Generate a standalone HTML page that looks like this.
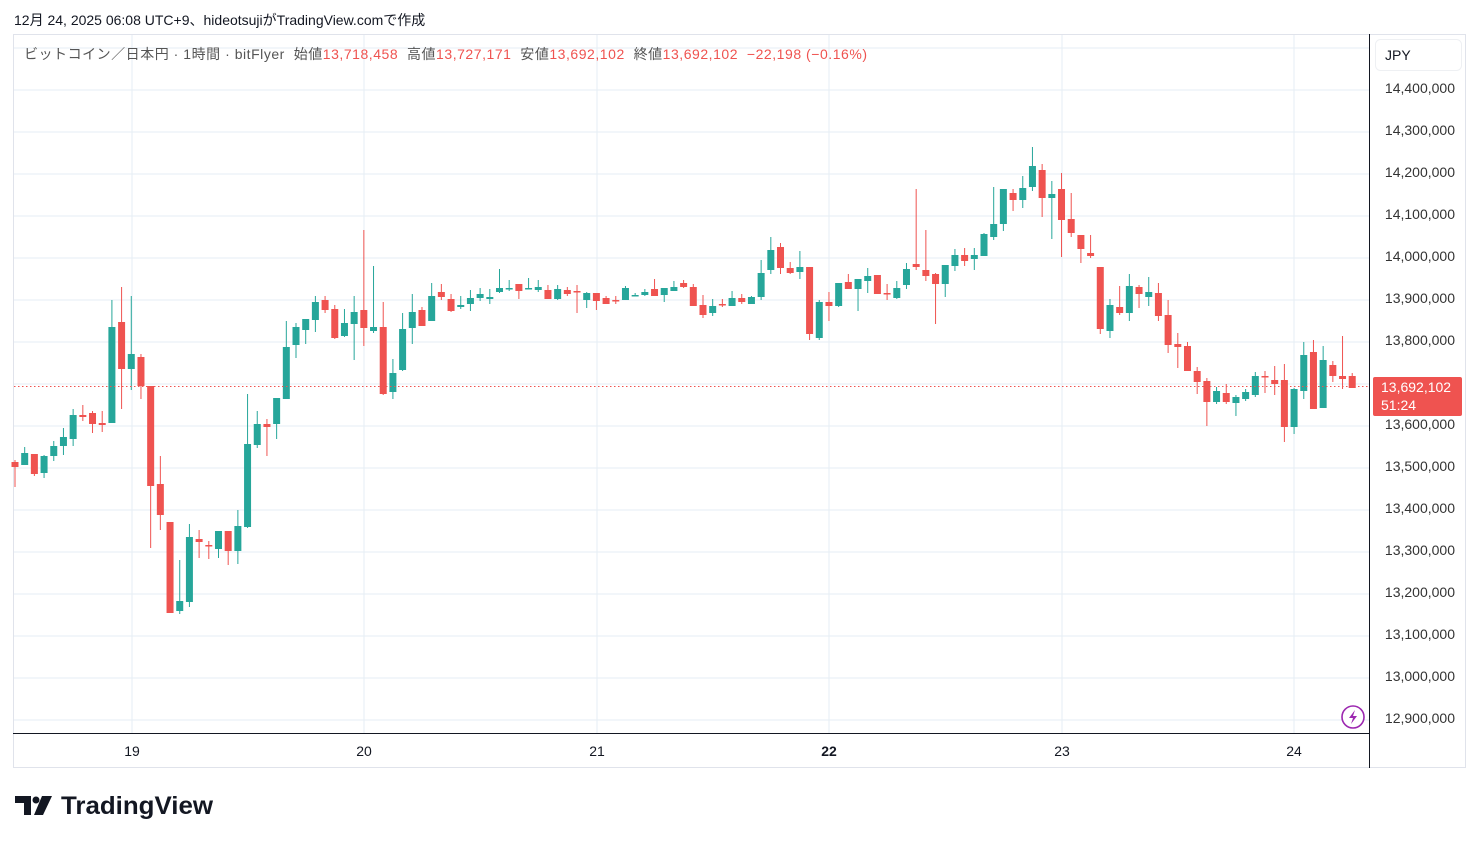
<!DOCTYPE html>
<html><head><meta charset="utf-8">
<style>
html,body{margin:0;padding:0;background:#fff;width:1479px;height:843px;overflow:hidden;font-family:"Liberation Sans","Noto Sans CJK JP",sans-serif;}
#hdr{position:absolute;left:14px;top:10px;font-size:14px;color:#131722;}
svg{position:absolute;left:0;top:0;}
</style></head><body>
<div id="hdr">12月 24, 2025 06:08 UTC+9、hideotsujiがTradingView.comで作成</div>
<svg id="s" width="1479" height="843" xmlns="http://www.w3.org/2000/svg" font-family="Liberation Sans, Noto Sans CJK JP, sans-serif"></svg>
<script>
var d=[
[462,460,487,467],[465,447,465,453],[454,454,476,474],[473,455,478,456],[456,441,461,446],[446,428,455,437],[439,409,446,415],[415,405,421,417],[413,411,433,424],[423,411,432,425],
[423,300,423,327],[322,287,409,369],[369,296,390,354],[357,354,399,386],[386,386,548,486],[484,456,530,515],[522,522,613,613],[611,560,614,601],[602,524,607,537],[539,530,558,542],
[545,541,559,546],[549,531,558,531],[531,531,565,551],[551,510,564,526],[527,394,528,444],[445,411,448,424],[424,419,456,427],[424,398,439,398],[399,321,399,347],[345,323,358,327],
[330,319,344,319],[320,296,332,302],[300,296,313,310],[309,305,339,338],[336,309,337,323],[324,296,360,312],[310,230,346,328],[331,266,333,327],[327,302,395,394],[392,359,399,373],
[370,313,371,329],[328,294,344,312],[310,307,326,326],[321,283,321,296],[292,284,300,297],[299,294,312,311],[307,296,309,305],[304,290,311,298],[298,288,301,294],[299,289,304,297],
[292,269,293,288],[289,280,291,288],[284,284,299,291],[289,278,289,288],[290,280,292,287],[290,285,299,299],[299,285,300,289],[290,287,296,294],[291,285,313,292],[300,292,308,293],
[293,293,310,301],[298,296,304,304],[300,296,304,301],[300,286,300,288],[296,293,296,295],[295,289,296,292],[289,279,296,296],[295,288,302,288],[291,281,291,287],[283,280,288,287],
[287,284,306,306],[305,295,318,315],[313,299,316,306],[304,299,307,305],[306,291,306,298],[298,294,304,302],[304,296,304,297],[297,260,300,273],[270,237,274,250],[247,243,274,268],
[268,262,274,273],[272,251,279,267],[267,267,340,334],[338,300,340,302],[302,292,321,306],[306,283,307,283],[282,274,289,289],[289,279,311,279],[281,268,293,276],[275,275,294,294],
[293,284,300,294],[298,281,299,288],[285,263,289,269],[264,189,270,267],[270,230,281,276],[274,273,324,284],[284,265,297,265],[266,249,271,255],[255,248,266,261],[259,248,270,255],
[256,233,256,234],[237,187,240,224],[224,189,231,189],[193,189,211,200],[200,176,208,188],[187,147,191,166],[170,164,217,198],[198,181,239,194],[189,173,257,220],[219,193,237,233],
[235,235,263,249],[253,235,258,256],[267,267,334,329],[331,299,338,305],[307,286,315,313],[313,274,321,286],[287,285,308,294],[297,277,306,292],[293,283,321,316],[315,300,353,345],
[344,333,368,347],[346,342,371,371],[371,367,394,382],[381,378,426,402],[402,387,404,391],[393,384,404,402],[403,395,416,397],[399,389,401,392],[395,372,397,376],[376,371,393,377],
[380,366,395,384],[380,364,442,427],[427,388,434,389],[391,342,399,355],[352,340,409,409],[408,346,408,360],[365,361,382,376],[376,336,389,379],[376,373,388,388]];
var s='';
s+='<rect x="13.5" y="34.5" width="1452" height="733" fill="none" stroke="#e0e3eb"/>';
for(var y=48;y<=720;y+=42)s+='<line x1="14" x2="1369" y1="'+y+'" y2="'+y+'" stroke="#e6edf4"/>';
var days=[[132,'19'],[364,'20'],[597,'21'],[829,'22'],[1062,'23'],[1294,'24']];
days.forEach(function(a){s+='<line x1="'+a[0]+'" x2="'+a[0]+'" y1="35" y2="733" stroke="#e6edf4"/>';});
for(var i=0;i<d.length;i++){var c=d[i],x=15+i*9.69,up=c[3]<c[0],col=up?'#26a69a':'#ef5350';
var t=Math.min(c[0],c[3]),b=Math.max(c[0],c[3]);if(b-t<1.5)b=t+1.5;
s+='<line x1="'+x+'" x2="'+x+'" y1="'+c[1]+'" y2="'+c[2]+'" stroke="'+col+'" stroke-width="1"/>';
s+='<rect x="'+(x-3.5)+'" y="'+t+'" width="7" height="'+(b-t)+'" fill="'+col+'"/>';}
s+='<line x1="14" x2="1369" y1="386.5" y2="386.5" stroke="#ef5350" stroke-dasharray="1.5,2.5"/>';
s+='<line x1="1369.5" x2="1369.5" y1="34" y2="768" stroke="#131722"/>';
s+='<line x1="13" x2="1369" y1="733.5" y2="733.5" stroke="#131722"/>';
var p=14400000;for(var y=88;y<=718;y+=42){s+='<text x="1455" y="'+(y+5)+'" text-anchor="end" font-size="14" fill="#333">'+p.toLocaleString('en-US')+'</text>';p-=100000;}
days.forEach(function(a){s+='<text x="'+a[0]+'" y="756" text-anchor="middle" font-size="14" fill="#131722"'+(a[1]=='22'?' font-weight="bold"':'')+'>'+a[1]+'</text>';});
s+='<rect x="1375.5" y="39.5" width="86" height="31" rx="5" fill="#fff" stroke="#eef0f3"/>';
s+='<text x="1385" y="60" font-size="14" fill="#131722">JPY</text>';
s+='<rect x="1373" y="377" width="89" height="39" rx="2" fill="#ef5350"/>';
s+='<text x="1381" y="392" font-size="14" fill="#fff">13,692,102</text><text x="1381" y="410" font-size="14" fill="#fff">51:24</text>';
s+='<circle cx="1353" cy="717" r="11" fill="#fff" stroke="#9c27b0" stroke-width="1.6"/><path d="M1355 710 L1349 718 L1353 718 L1351 724 L1357 716 L1353 716 Z" fill="#9c27b0"/>';
s+='<text x="24" y="59" font-size="14" fill="#555" textLength="843" lengthAdjust="spacing" xml:space="preserve">ビットコイン／日本円 · 1時間 · bitFlyer  始値<tspan fill="#ef5350">13,718,458</tspan>  高値<tspan fill="#ef5350">13,727,171</tspan>  安値<tspan fill="#ef5350">13,692,102</tspan>  終値<tspan fill="#ef5350">13,692,102  −22,198 (−0.16%)</tspan></text>';
s+='<path d="M15 796 H31 V815 H24 V803 H15 Z" fill="#131722"/><circle cx="36" cy="800" r="3.5" fill="#131722"/><path d="M42 796 H52 L43 815 H34 Z" fill="#131722"/>';
s+='<text x="61" y="814" font-size="25" font-weight="bold" fill="#131722" textLength="152" lengthAdjust="spacingAndGlyphs">TradingView</text>';
document.getElementById('s').innerHTML=s;
</script>
</body></html>
